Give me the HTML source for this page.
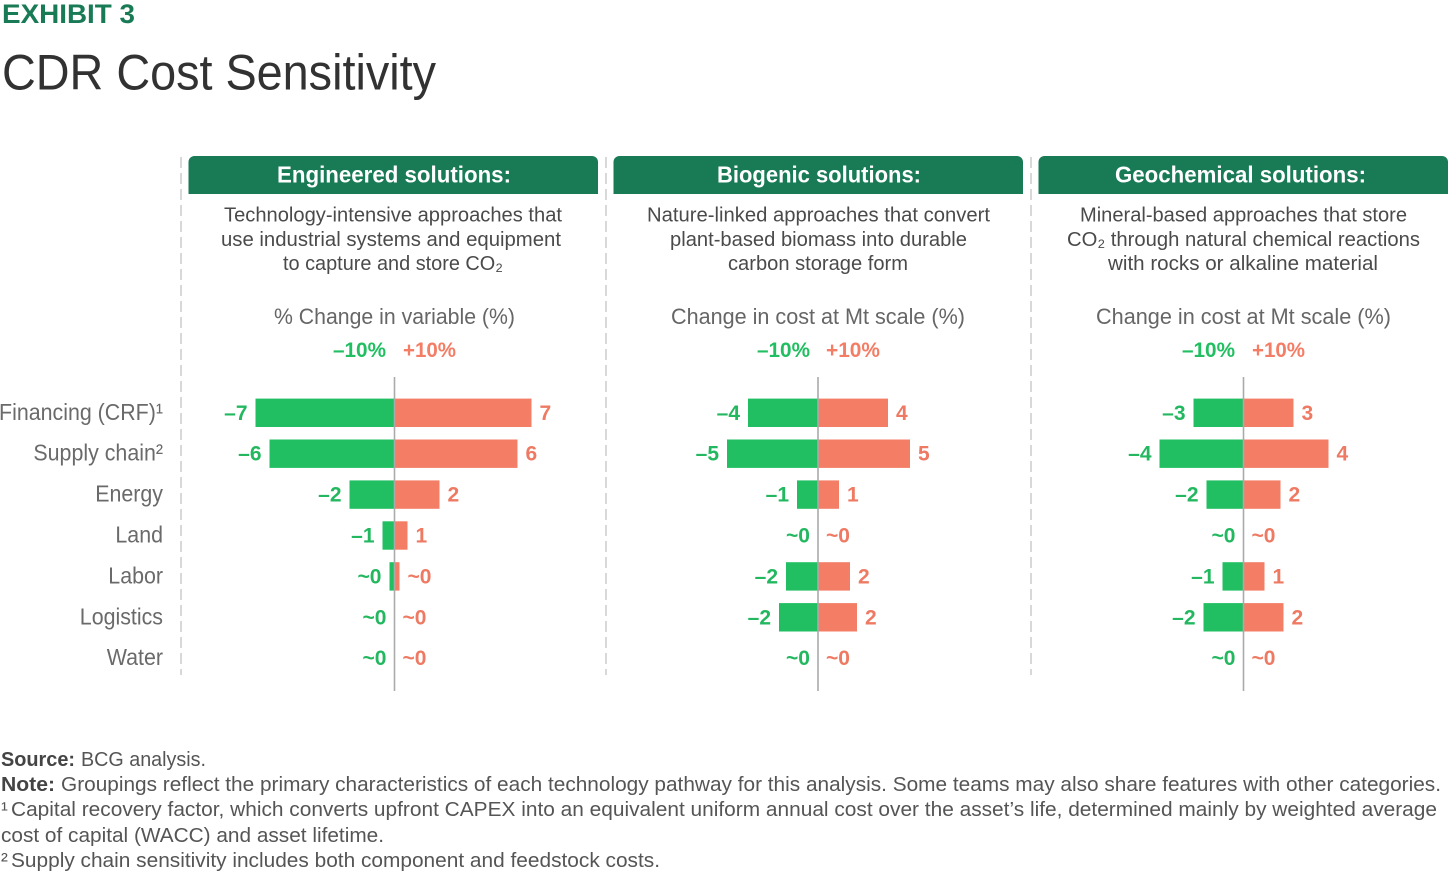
<!DOCTYPE html>
<html lang="en">
<head>
<meta charset="utf-8">
<title>CDR Cost Sensitivity</title>
<style>
html,body{margin:0;padding:0;background:#fff;}
svg{display:block;font-family:"Liberation Sans",sans-serif;}
.hdr{font-size:23px;font-weight:bold;fill:#fff;text-anchor:start;}
.desc{font-size:20.5px;fill:#4a4a4a;}
.axt{font-size:22px;fill:#666;}
.leg{font-size:21px;font-weight:bold;}
.foot{font-size:20.5px;fill:#555;}
.footb{font-size:20.5px;fill:#444;font-weight:bold;}
</style>
</head>
<body>
<svg id="chart" xmlns="http://www.w3.org/2000/svg" width="1456" height="872" viewBox="0 0 1456 872">
  <text x="2" y="23" font-size="27" font-weight="bold" fill="#197a56" textLength="133" lengthAdjust="spacingAndGlyphs">EXHIBIT 3</text>
  <text x="2" y="89.5" font-size="50" fill="#323232" textLength="434" lengthAdjust="spacingAndGlyphs">CDR Cost Sensitivity</text>

  <g stroke="#d8d8d8" stroke-width="2" stroke-dasharray="11 5">
    <line x1="181" y1="157" x2="181" y2="675"/>
    <line x1="606" y1="157" x2="606" y2="675"/>
    <line x1="1031" y1="157" x2="1031" y2="675"/>
  </g>

  <path fill="#197a56" d="M188.5 194V162a6 6 0 0 1 6-6H592a6 6 0 0 1 6 6V194Z"/>
  <path fill="#197a56" d="M613.5 194V162a6 6 0 0 1 6-6H1017a6 6 0 0 1 6 6V194Z"/>
  <path fill="#197a56" d="M1038.5 194V162a6 6 0 0 1 6-6H1442a6 6 0 0 1 6 6V194Z"/>
  <text class="hdr" x="277" y="182.5" textLength="234" lengthAdjust="spacingAndGlyphs">Engineered solutions:</text>
  <text class="hdr" x="717" y="182.5" textLength="204" lengthAdjust="spacingAndGlyphs">Biogenic solutions:</text>
  <text class="hdr" x="1115" y="182.5" textLength="251" lengthAdjust="spacingAndGlyphs">Geochemical solutions:</text>

  <g>
    <text class="desc" x="224" y="221.5" textLength="338" lengthAdjust="spacingAndGlyphs">Technology-intensive approaches that</text>
    <text class="desc" x="221" y="246" textLength="340" lengthAdjust="spacingAndGlyphs">use industrial systems and equipment</text>
    <text class="desc" x="283" y="270" textLength="220" lengthAdjust="spacingAndGlyphs">to capture and store CO₂</text>
  </g>
  <g>
    <text class="desc" x="647" y="221.5" textLength="343" lengthAdjust="spacingAndGlyphs">Nature-linked approaches that convert</text>
    <text class="desc" x="670" y="246" textLength="297" lengthAdjust="spacingAndGlyphs">plant-based biomass into durable</text>
    <text class="desc" x="728" y="270" textLength="180" lengthAdjust="spacingAndGlyphs">carbon storage form</text>
  </g>
  <g>
    <text class="desc" x="1080" y="221.5" textLength="327" lengthAdjust="spacingAndGlyphs">Mineral-based approaches that store</text>
    <text class="desc" x="1067" y="246" textLength="353" lengthAdjust="spacingAndGlyphs">CO₂ through natural chemical reactions</text>
    <text class="desc" x="1108" y="270" textLength="270" lengthAdjust="spacingAndGlyphs">with rocks or alkaline material</text>
  </g>

  <text class="axt" x="274" y="324" textLength="241" lengthAdjust="spacingAndGlyphs">% Change in variable (%)</text>
  <text class="axt" x="671" y="324" textLength="294" lengthAdjust="spacingAndGlyphs">Change in cost at Mt scale (%)</text>
  <text class="axt" x="1096" y="324" textLength="295" lengthAdjust="spacingAndGlyphs">Change in cost at Mt scale (%)</text>

  <text class="leg" fill="#21bf61" x="333" y="357" textLength="53" lengthAdjust="spacingAndGlyphs">–10%</text>
  <text class="leg" fill="#f47d65" x="403" y="357" textLength="53" lengthAdjust="spacingAndGlyphs">+10%</text>
  <text class="leg" fill="#21bf61" x="757" y="357" textLength="53" lengthAdjust="spacingAndGlyphs">–10%</text>
  <text class="leg" fill="#f47d65" x="826" y="357" textLength="54" lengthAdjust="spacingAndGlyphs">+10%</text>
  <text class="leg" fill="#21bf61" x="1182" y="357" textLength="53" lengthAdjust="spacingAndGlyphs">–10%</text>
  <text class="leg" fill="#f47d65" x="1252" y="357" textLength="53" lengthAdjust="spacingAndGlyphs">+10%</text>

  <g id="plot"></g>

  <g>
    <text class="footb" x="1" y="766" textLength="74" lengthAdjust="spacingAndGlyphs">Source:</text>
    <text class="foot" x="81" y="766" textLength="125" lengthAdjust="spacingAndGlyphs">BCG analysis.</text>
    <text class="footb" x="1" y="791" textLength="54" lengthAdjust="spacingAndGlyphs">Note:</text>
    <text class="foot" x="61" y="791" textLength="1380" lengthAdjust="spacingAndGlyphs">Groupings reflect the primary characteristics of each technology pathway for this analysis. Some teams may also share features with other categories.</text>
    <text class="foot" x="1" y="816">¹</text>
    <text class="foot" x="11" y="816" textLength="1426" lengthAdjust="spacingAndGlyphs">Capital recovery factor, which converts upfront CAPEX into an equivalent uniform annual cost over the asset’s life, determined mainly by weighted average</text>
    <text class="foot" x="1" y="842" textLength="383" lengthAdjust="spacingAndGlyphs">cost of capital (WACC) and asset lifetime.</text>
    <text class="foot" x="1" y="867">²</text>
    <text class="foot" x="11" y="867" textLength="649" lengthAdjust="spacingAndGlyphs">Supply chain sensitivity includes both component and feedstock costs.</text>
  </g>
</svg>
<script>
const categories = ['Financing (CRF)¹', 'Supply chain²', 'Energy', 'Land', 'Labor', 'Logistics', 'Water'];
const engineeredLow = [6.95, 6.25, 2.25, 0.6, 0.25, 0, 0];
const engineeredHigh = [6.85, 6.15, 2.25, 0.65, 0.25, 0, 0];
const engineeredLabels = ['7', '6', '2', '1', '~0', '~0', '~0'];
const biogenicLow = [3.5, 4.55, 1.05, 0, 1.6, 1.95, 0];
const biogenicHigh = [3.5, 4.6, 1.05, 0, 1.6, 1.95, 0];
const biogenicLabels = ['4', '5', '1', '~0', '2', '2', '~0'];
const geochemicalLow = [2.5, 4.2, 1.85, 0, 1.05, 2.0, 0];
const geochemicalHigh = [2.5, 4.25, 1.85, 0, 1.05, 2.0, 0];
const geochemicalLabels = ['3', '4', '2', '~0', '1', '2', '~0'];

const NS = 'http://www.w3.org/2000/svg';
const plot = document.getElementById('plot');
const GREEN = '#21bf61', SALMON = '#f47d65';
const GREEN_T = '#23b860', SALMON_T = '#ee7a63';
const UNIT = 20;
const LABEL_CONDENSE = 0.93;
const rowY = i => 412.8 + i * 40.9;
const widthOf = v => v * UNIT;

function svgEl(tag, attrs, text) {
  const el = document.createElementNS(NS, tag);
  for (const k in attrs) el.setAttribute(k, attrs[k]);
  if (text !== undefined) el.textContent = text;
  return el;
}

categories.forEach((c, i) => {
  const t = svgEl('text', {x: 163, y: rowY(i) + 7, 'font-size': 23, fill: '#6a6a6a', 'text-anchor': 'end'}, c);
  
  
  plot.appendChild(t);
  t.setAttribute('lengthAdjust', 'spacingAndGlyphs');
  t.setAttribute('textLength', (t.getComputedTextLength() * LABEL_CONDENSE).toFixed(1));
});

function panel(center, low, high, labels) {
  categories.forEach((c, i) => {
    const y = rowY(i) - 14.2;
    const wl = widthOf(low[i]), wh = widthOf(high[i]);
    if (wl > 0) {
      const b = svgEl('rect', {x: center - wl, y: y, width: wl, height: 28.4, fill: GREEN});
      
      
      plot.appendChild(b);
    }
    if (wh > 0) {
      const b = svgEl('rect', {x: center, y: y, width: wh, height: 28.4, fill: SALMON});
      
      
      plot.appendChild(b);
    }
    const approx = labels[i].charAt(0) === '~';
    const lt = svgEl('text', {x: center - wl - 8, y: rowY(i) + 7, 'font-size': 21, 'font-weight': 'bold', fill: GREEN_T, 'text-anchor': 'end'}, approx ? labels[i] : '–' + labels[i]);
    
    
    plot.appendChild(lt);
    const rt = svgEl('text', {x: center + wh + 8, y: rowY(i) + 7, 'font-size': 21, 'font-weight': 'bold', fill: SALMON_T}, labels[i]);
    
    
    plot.appendChild(rt);
  });
  const axis = svgEl('line', {x1: center, y1: 377, x2: center, y2: 691, stroke: '#aaaaaa', 'stroke-width': 1.6});
  
  
  plot.appendChild(axis);
}

panel(394.5, engineeredLow, engineeredHigh, engineeredLabels);
panel(818, biogenicLow, biogenicHigh, biogenicLabels);
panel(1243.5, geochemicalLow, geochemicalHigh, geochemicalLabels);
</script>
</body>
</html>
